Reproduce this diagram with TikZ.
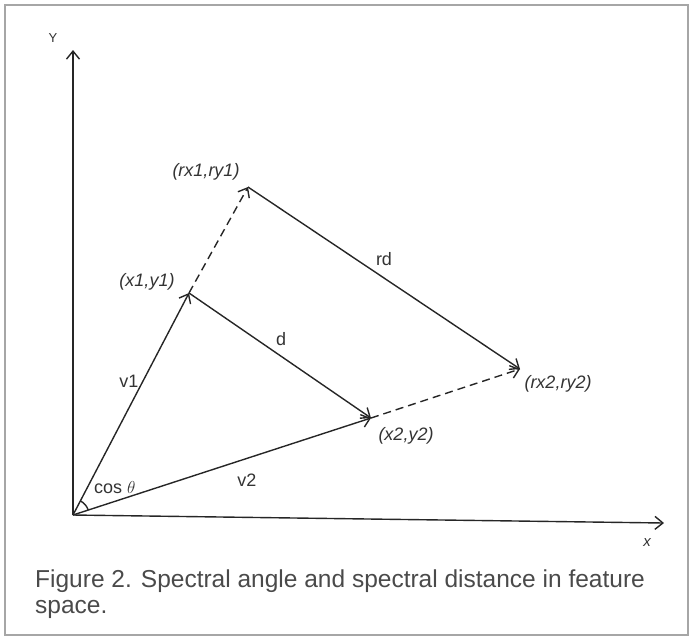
\documentclass[tikz,border=0pt]{standalone}
\usepackage{fontspec}
\setmainfont{Liberation Sans}
\usetikzlibrary{arrows.meta,calc}
\definecolor{ink}{HTML}{262626}
\definecolor{lblink}{HTML}{333333}
\definecolor{captxt}{HTML}{4A4A4A}
\begin{document}
\begin{tikzpicture}[x=1pt,y=-1pt,
  vec/.style={draw=ink,line width=1.4pt,-{Straight Barb[length=8pt,width=13pt,line width=1.4pt]}},
  dvec/.style={vec,dash pattern=on 8pt off 5pt},
  lbl/.style={text=lblink,font=\fontsize{18}{21}\selectfont,inner sep=0pt},
  ilbl/.style={lbl,font=\fontsize{18}{21}\selectfont\itshape}]
\useasboundingbox (0,0) rectangle (692,638);
\draw[draw=gray!70,line width=1.6pt] (5,5) rectangle (688,635);
% points
\coordinate (O) at (73,515);
\coordinate (Ytip) at (73,50);
\coordinate (Xtip) at (664,523);
\coordinate (P1) at (189,293);
\coordinate (R1) at (248,187);
\coordinate (P2) at (371,418);
\coordinate (R2) at (520,369);
% axes
\draw[vec] (O) -- (Ytip);
\draw[vec] (O) -- (Xtip);
% vectors
\draw[vec] (O) -- (P1);
\draw[vec] (O) -- (P2);
\draw[vec] (P1) -- (P2);
\draw[vec] (R1) -- (R2);
\draw[dvec] (P1) -- (R1);
\draw[dvec] (P2) -- (R2);
% angle arc
\draw[draw=ink,line width=1.4pt] ($(O)!16pt!(P2)$) arc[start angle=18.3,end angle=62.3,radius=16pt];
% labels
\node[lbl,font=\fontsize{13}{15}\selectfont] (ylab) at (53,38) {Y};
\node[lbl,font=\fontsize{15}{17}\selectfont\itshape] (xlab) at (647,543) {x};
\node[ilbl] (lr1) at (206,172) {(rx1,ry1)};
\node[ilbl] (lp1) at (147,282) {(x1,y1)};
\node[ilbl] (lp2) at (406,436) {(x2,y2)};
\node[ilbl] (lr2) at (558,384) {(rx2,ry2)};
\node[lbl] (lrd) at (384,259) {rd};
\node[lbl] (ld) at (281,339) {d};
\node[lbl] (lv1) at (129,381) {v1};
\node[lbl] (lv2) at (247,480) {v2};
\node[lbl,anchor=base west] (lcos) at (94,493) {cos $\theta$};
% caption (base anchor = baseline of the last line)
\node[anchor=base west,text=captxt,inner sep=0pt,align=left,
  font=\fontsize{24.5}{26}\selectfont] (cap) at (35,613)
  {Figure 2. Spectral angle and spectral distance in feature\\space.};
\end{tikzpicture}
\end{document}
